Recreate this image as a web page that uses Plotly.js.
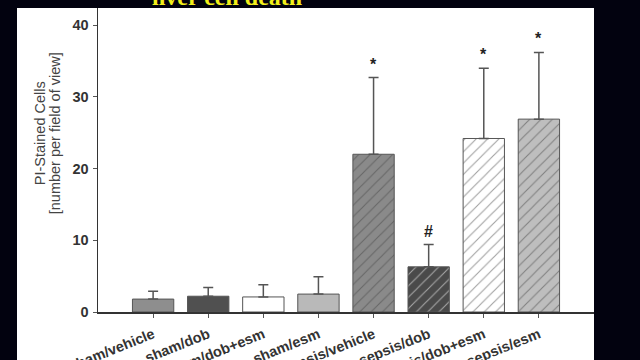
<!DOCTYPE html>
<html>
<head>
<meta charset="utf-8">
<script src="https://cdn.plot.ly/plotly-3.0.1.min.js"></script>
<style>html,body{margin:0;padding:0;background:#02020f;}#chart{width:640px;height:360px;}</style>
</head>
<body>
<div id="chart"></div>
<script>
const categories = ["sham/vehicle", "sham/dob", "sham/dob+esm", "sham/esm", "sepsis/vehicle", "sepsis/dob", "sepsis/dob+esm", "sepsis/esm"];
const values = [1.8, 2.2, 2.1, 2.5, 22.0, 6.3, 24.2, 26.9];
const errors = [1.1, 1.2, 1.7, 2.4, 10.7, 3.1, 9.8, 9.3];
const significance = ["", "", "", "", "*", "#", "*", "*"];
const fillColors = ["#8e8e8e", "#505050", "#ffffff", "#b9b9b9", "#8a8a8a", "#4a4a4a", "#ffffff", "#bebebe"];
const hatchShapes = ["", "", "", "", "/", "/", "/", "/"];
const hatchColors = ["#333", "#333", "#333", "#333", "#3a3a3a", "#262626", "#6a6a6a", "#6a6a6a"];
const yTicks = [0, 10, 20, 30, 40];
const yTitleLines = ["PI-Stained Cells", "[number per field of view]"];

const trace = {
  type: "bar",
  x: categories,
  y: values,
  width: 0.75,
  marker: {
    color: fillColors,
    line: {color: "#555", width: 1},
    pattern: {shape: hatchShapes, fgcolor: hatchColors, fillmode: "overlay", size: 8, solidity: 0.14}
  },
  error_y: {type: "data", symmetric: false, array: errors, arrayminus: errors.map(() => 0), color: "#555", thickness: 1.5, width: 5},
  hoverinfo: "none"
};

const annotations = significance.map((s, i) => ({
  x: categories[i], y: values[i] + errors[i], xref: "x", yref: "y",
  text: "<b>" + s + "</b>", showarrow: false, xanchor: "center", yanchor: "bottom", yshift: 3,
  font: {family: "Liberation Sans, Arial", size: 16, color: "#222"}
})).filter((a, i) => significance[i] !== "");

annotations.push({
  xref: "paper", yref: "paper", x: 0.26, y: 1, xanchor: "center", yanchor: "bottom", yshift: -4,
  text: "<b>liver cell death</b>", showarrow: false,
  font: {family: "Liberation Serif, Times New Roman", size: 24, color: "#f2ef1a"}
});
const yTitleX = [-0.1169, -0.0867];
yTitleLines.forEach((t, i) => annotations.push({
  xref: "paper", yref: "paper", x: yTitleX[i], y: 0.588, xanchor: "center", yanchor: "middle", textangle: -90,
  text: t, showarrow: false,
  font: {family: "Liberation Sans, Arial", size: 14.5, color: "#444"}
}));

const layout = {
  width: 640, height: 360,
  margin: {l: 98, r: 46, t: 8, b: 48},
  paper_bgcolor: "#02020f",
  plot_bgcolor: "#ffffff",
  showlegend: false,
  xaxis: {
    type: "category", range: [-1, 8], showgrid: false, zeroline: false,
    showline: true, linecolor: "#333", linewidth: 1.5,
    ticks: "outside", ticklen: 4, tickcolor: "#555", tickangle: -22, ticklabelstandoff: 3,
    tickfont: {family: "Liberation Sans, Arial", size: 14.5, color: "#333", weight: "bold"}
  },
  yaxis: {
    range: [0, 42.4], tickvals: yTicks, showgrid: false, zeroline: false,
    showline: true, linecolor: "#333", linewidth: 1.5,
    ticks: "outside", ticklen: 4, tickcolor: "#555", ticklabelstandoff: 1,
    tickfont: {family: "Liberation Sans, Arial", size: 14.5, color: "#333", weight: "bold"}
  },
  shapes: [{
    type: "rect", xref: "paper", yref: "paper", x0: -0.1633, x1: 1, y0: -0.158, y1: 1,
    fillcolor: "#ffffff", line: {width: 0}, layer: "below"
  }],
  annotations: annotations
};

Plotly.newPlot("chart", [trace], layout, {displayModeBar: false, staticPlot: true});
</script>
</body>
</html>
